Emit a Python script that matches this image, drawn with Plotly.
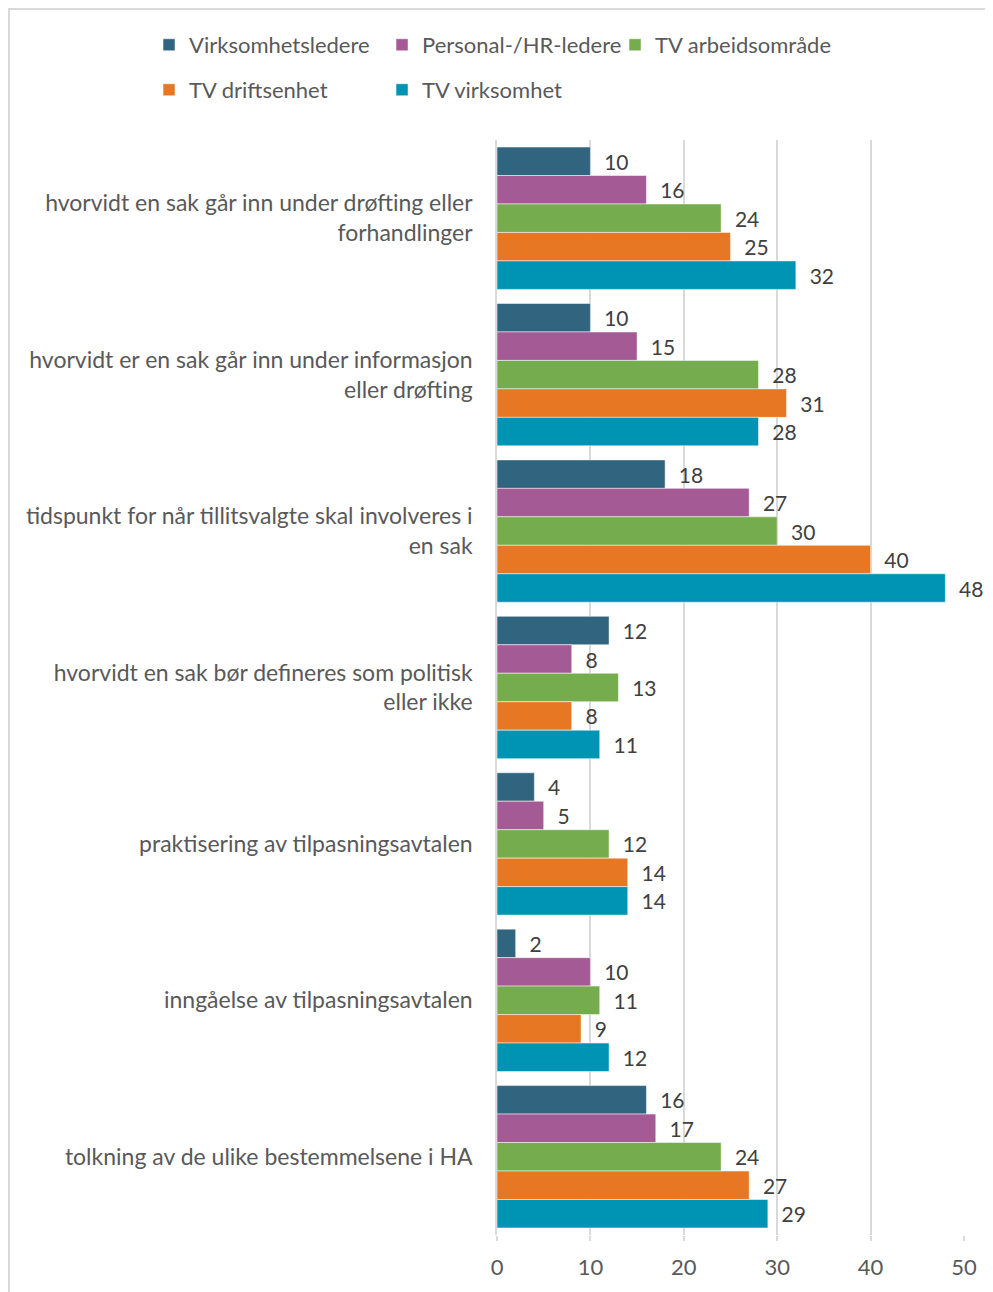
import plotly.graph_objects as go

categories = [
    "hvorvidt en sak går inn under drøfting eller<br>forhandlinger",
    "hvorvidt er en sak går inn under informasjon<br>eller drøfting",
    "tidspunkt for når tillitsvalgte skal involveres i<br>en sak",
    "hvorvidt en sak bør defineres som politisk<br>eller ikke",
    "praktisering av tilpasningsavtalen",
    "inngåelse av tilpasningsavtalen",
    "tolkning av de ulike bestemmelsene i HA",
]
series_names = ["Virksomhetsledere", "Personal-/HR-ledere", "TV arbeidsområde",
                "TV driftsenhet", "TV virksomhet"]
virksomhetsledere = [10, 10, 18, 12, 4, 2, 16]
personal_hr = [16, 15, 27, 8, 5, 10, 17]
tv_arbeidsomrade = [24, 28, 30, 13, 12, 11, 24]
tv_driftsenhet = [25, 31, 40, 8, 14, 9, 27]
tv_virksomhet = [32, 28, 48, 11, 14, 12, 29]
series_values = [virksomhetsledere, personal_hr, tv_arbeidsomrade, tv_driftsenhet, tv_virksomhet]
colors = ["#31647E", "#A35A95", "#74AC4E", "#E77722", "#0094B4"]
legend_rows = ["legend", "legend", "legend", "legend2", "legend2"]
x_ticks = [0, 10, 20, 30, 40, 50]

FONT = "Lato"
TEXT_COLOR = "#595959"
fig = go.Figure()
for name, vals, col, lg in zip(series_names, series_values, colors, legend_rows):
    fig.add_trace(go.Bar(
        y=categories, x=vals, name=name, orientation="h", legend=lg,
        marker=dict(color=col, line=dict(color="rgba(255,255,255,0.5)", width=1)),
        text=vals, texttemplate="\u00a0\u00a0%{x}", textposition="outside",
        textfont=dict(family=FONT, size=21, color="#404040"),
        cliponaxis=False,
    ))

legend_common = dict(orientation="h", xref="paper", yref="paper",
                     xanchor="left", yanchor="middle",
                     entrywidth=188, entrywidthmode="pixels",
                     font=dict(family=FONT, size=22, color=TEXT_COLOR),
                     traceorder="normal", bgcolor="rgba(0,0,0,0)")

fig.update_layout(
    width=993, height=1292,
    barmode="group", bargap=0.09, bargroupgap=0,
    plot_bgcolor="white", paper_bgcolor="white",
    margin=dict(l=489, r=37, t=132, b=65, autoexpand=False),
    font=dict(family=FONT, size=23, color=TEXT_COLOR),
    showlegend=True,
    legend=dict(legend_common, x=-0.7451, y=1.0868),
    legend2=dict(legend_common, x=-0.7451, y=1.0457),
    xaxis=dict(range=[0, 50], tickvals=x_ticks, showgrid=True, gridcolor="#D9D9D9",
               gridwidth=1.5, zeroline=False, showline=False,
               tickfont=dict(family=FONT, size=22, color=TEXT_COLOR),
               ticks="outside", ticklen=5, tickcolor="#D9D9D9", tickwidth=1.5,
               ticklabelstandoff=8),
    yaxis=dict(autorange="reversed", showgrid=False, showline=True, linecolor="#D9D9D9",
               linewidth=1.5, ticks="", ticklabelstandoff=18,
               tickfont=dict(family=FONT, size=23, color=TEXT_COLOR)),
    shapes=[dict(type="rect", xref="paper", yref="paper",
                 x0=-1.045, x1=1.2, y0=-0.2, y1=1.1196,
                 line=dict(color="#D9D9D9", width=2), layer="below")],
)

fig.write_html("out.html")
